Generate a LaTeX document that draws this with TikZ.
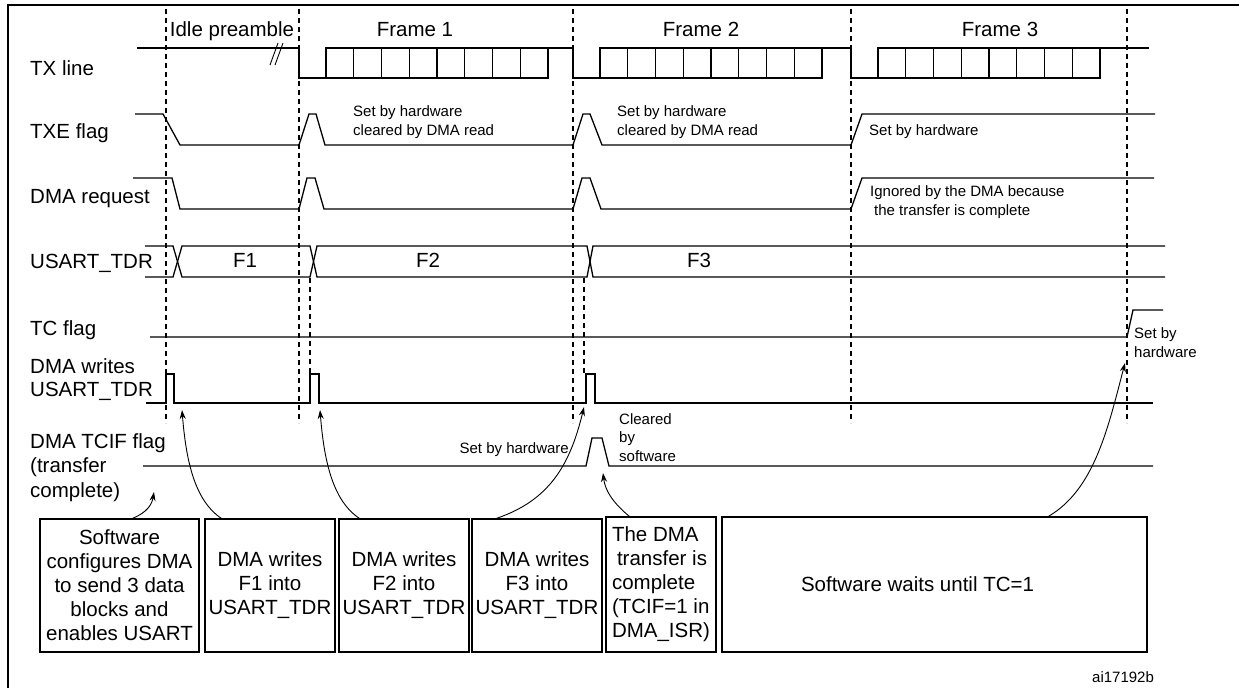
\documentclass[tikz,border=0pt]{standalone}
\usepackage{fontspec}
\setmainfont{Liberation Sans}
\usetikzlibrary{arrows.meta,calc}

\begin{document}
\begin{tikzpicture}[x=1pt,y=-1pt,
            sig/.style={line width=1.3pt},
            guide/.style={line width=1.2pt,dash pattern=on 5pt off 4pt},
            signame/.style={anchor=base west,inner sep=0pt,align=left,font=\fontsize{20.5}{23}\selectfont},
            phase/.style={anchor=base,inner sep=0pt,font=\fontsize{20.5}{23}\selectfont},
            note/.style={anchor=base west,inner sep=0pt,align=left,font=\fontsize{15}{18.5}\selectfont},
            msgbox/.style={draw,line width=1.2pt,inner sep=0pt,align=center,font=\fontsize{20.5}{24}\selectfont},
            arr/.style={-{Stealth[length=9pt,width=6pt]},line width=0.9pt}]
        \useasboundingbox (0,0) rectangle (1239,688);
        \draw[line width=2.5pt] (8,688) -- (8,5) -- (1239,5);

        % Define signal names (base = last line)
        \node[signame] (txl) at (30,75) {TX line};
        \node[signame] (txe) at (30,138) {TXE flag};
        \node[signame] (dmar) at (30,203) {DMA request};
        \node[signame] (tdr) at (30,268) {USART\_TDR};
        \node[signame] (tc) at (30,335) {TC flag};
        \node[signame] (dmaw) at (30,396) {DMA writes\\USART\_TDR};
        \node[signame,font=\fontsize{20.5}{24.5}\selectfont] (tcif) at (30,497) {DMA TCIF flag\\(transfer\\complete)};

        % Define phases
        \node[phase] (idle) at (232,36) {Idle preamble};
        \node[phase] (fr1) at (415,36) {Frame 1};
        \node[phase] (fr2) at (701,36) {Frame 2};
        \node[phase] (fr3) at (1000,36) {Frame 3};
        \foreach \x in {166,299,573,851,1127}
            \draw[guide] (\x,9) -- (\x,423);
        \foreach \x in {310,584}
            \draw[guide] (\x,278) -- (\x,373);

        % Draw TX line
        \draw[sig] (137,48) -- (299,48);
        \draw[line width=0.9pt] (270,65) -- (278,43) (275,65) -- (283,43);
        \foreach \s/\e in {299/573,573/851,851/1149} {
            \draw[sig] (\s,48) -- (\s,78) -- ({\s+249},78) -- ({\s+249},48);
            \draw[sig] ({\s+27},78) -- ({\s+27},48) -- (\e,48);
            \foreach \k in {1,...,7}
                \draw[sig] ({\s+27+27.75*\k},48) -- ++(0,30);
        }

        % Draw flags
        \draw[sig] (135,114) -- (163,114) -- (180,145) -- (299,145) -- (309,114) -- (316,114)
            -- (325,145) -- (573,145) -- (583,114) -- (590,114) -- (602,145) -- (851,145)
            -- (862,114) -- (1155,114);
        \draw[sig] (133,178) -- (172,178) -- (180,209) -- (299,209) -- (307,178) -- (315,178)
            -- (324,209) -- (573,209) -- (582,178) -- (590,178) -- (601,209) -- (851,209)
            -- (862,178) -- (1154,178);
        \draw[sig] (145,246) -- (173,246) -- (182,277) -- (310,277) -- (317,246) -- (587,246)
            -- (593,277) -- (1165,277);
        \draw[sig] (145,277) -- (173,277) -- (182,246) -- (310,246) -- (317,277) -- (587,277)
            -- (593,246) -- (1165,246);
        \draw[sig] (150,337) -- (1127,337) -- (1133,310) -- (1163,310);
        \draw[sig] (146,403) -- (166,403) -- (166,374) -- (174,374) -- (174,403) -- (310,403)
            -- (310,374) -- (319,374) -- (319,403) -- (586,403) -- (586,374) -- (595,374)
            -- (595,403) -- (1153,403);
        \draw[sig] (143,466) -- (586,466) -- (592,438) -- (602,438) -- (609,466) -- (1153,466);

        % Data and notes
        \node[phase] (f1) at (245,267) {F1};
        \node[phase] (f2) at (428,267) {F2};
        \node[phase] (f3) at (699,267) {F3};
        \node[note] (n1) at (353,135) {Set by hardware\\cleared by DMA read};
        \node[note] (n2) at (617,135) {Set by hardware\\cleared by DMA read};
        \node[note] (n3) at (869,135) {Set by hardware};
        \node[note] (n4) at (870,215) {Ignored by the DMA because\\\hspace*{4pt}the transfer is complete};
        \node[note] (n5) at (1134,357) {Set by\\hardware};
        \node[note,anchor=base east] (n6) at (569,453) {Set by hardware};
        \node[note] (n7) at (619,461) {Cleared\\by\\software};
        \node[note] (ref) at (1092,682) {ai17192b};

        % Define steps
        \node[msgbox,minimum width=159,minimum height=133] (b1) at (119.5,585.5)
            {Software\\configures DMA\\to send 3 data\\blocks and\\enables USART};
        \node[msgbox,minimum width=130,minimum height=133] (b2) at (270,585.5)
            {DMA writes\\F1 into\\USART\_TDR};
        \node[msgbox,minimum width=130,minimum height=133] (b3) at (404,585.5)
            {DMA writes\\F2 into\\USART\_TDR};
        \node[msgbox,minimum width=130,minimum height=133] (b4) at (537,585.5)
            {DMA writes\\F3 into\\USART\_TDR};
        \node[msgbox,minimum width=110,minimum height=135,align=left] (b5) at (661,584.5)
            {The DMA\\\hspace*{5pt}transfer is\\complete\\(TCIF=1 in\\DMA\_ISR)};
        \node[msgbox,minimum width=425,minimum height=135] (b6) at (934.5,584.5)
            {\hspace*{-34pt}Software waits until TC=1};

        % Draw edges
        \coordinate (t1) at (154,492);
        \coordinate (t2) at (182,410);
        \coordinate (t3) at (320,410);
        \coordinate (t4) at (584,407);
        \coordinate (t5) at (603,473);
        \coordinate (t6) at (1125,363);
        \draw[arr] ($(b1.north west)+(93,0)$) .. controls +(15,-6) and +(-2,12) .. (t1);
        \draw[arr] ($(b2.north west)+(17,0)$) .. controls +(-27,-18) and +(4,50) .. (t2);
        \draw[arr] ($(b3.north west)+(21,0)$) .. controls +(-27,-18) and +(4,50) .. (t3);
        \draw[arr] ($(b4.north west)+(25,0)$) .. controls +(53,-18) and +(-14,58) .. (t4);
        \draw[arr] ($(b5.north west)+(24,0)$) .. controls +(-17,-14) and +(2,17) .. (t5);
        \draw[arr] ($(b6.north west)+(327,0)$) .. controls +(46,-27) and +(-17,65) .. (t6);

        \end{tikzpicture}
\end{document}
